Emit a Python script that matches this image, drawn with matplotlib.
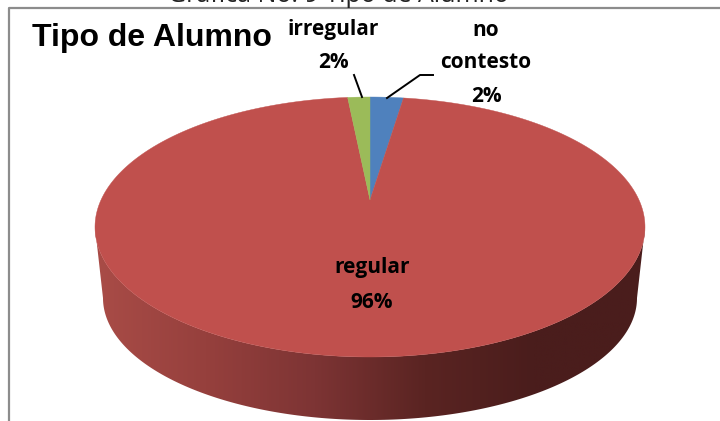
import numpy as np
import matplotlib
matplotlib.use("Agg")
import matplotlib.pyplot as plt
from matplotlib.colors import LinearSegmentedColormap
from matplotlib.patches import Polygon

categories = ["no\ncontesto", "regular", "irregular"]
counts = [3, 120, 2]
slice_colors = ["#4F81BD", "#C0504D", "#9BBB59"]
side_colors = ["#A94C47", "#96403D", "#7D3434", "#5A2422", "#4A1D1C", "#4A1D1C"]
title = "Gráfica No. 9 Tipo de Alumno"
chart_title = "Tipo de Alumno"

# top face ellipse in pixels, perspective moves the apex above the centre
cx, cy, a, b = 370, 227, 275, 130
persp = 0.208
# bottom rim of the side wall
cy2, a2, b2 = 298, 267, 122

fig = plt.figure(figsize=(7.2, 4.21), dpi=100)
ax = fig.add_axes([0, 0, 1, 1])
ax.axis("off")


def project(theta):
    # theta clockwise from 12 o'clock on the unit circle
    u, v = np.sin(theta), np.cos(theta)
    d = 1 + persp * v
    x = u * np.sqrt(1 - persp ** 2) / d
    y = (v + persp) / d
    return cx + a * x, cy - b * y


# chart frame
ax.plot([9, 9, 720], [421, 7.5, 7.5], color="#8C8C8C", lw=1.6, solid_capstyle="butt")

# side wall with a left to right shade
t = np.linspace(0, np.pi, 200)
top_x, top_y = cx - a * np.cos(t), cy + b * np.sin(t)
bot_x, bot_y = cx - a2 * np.cos(t), cy2 + b2 * np.sin(t)
side = Polygon(np.column_stack([np.r_[top_x, bot_x[::-1]], np.r_[top_y, bot_y[::-1]]]),
               closed=True, fc="none", ec="none")
ax.add_patch(side)
cmap = LinearSegmentedColormap.from_list("side", side_colors)
img = ax.imshow(np.linspace(0, 1, 256)[None, :], cmap=cmap, aspect="auto",
                extent=[cx - a, cx + a, 425, cy - 5], zorder=1)
img.set_clip_path(side)

# top face
edges = np.r_[0, np.cumsum(counts)] / np.sum(counts) * 2 * np.pi
apex_x, apex_y = cx, cy - b * persp
for i in range(len(counts)):
    th = np.linspace(edges[i], edges[i + 1], 300)
    x, y = project(th)
    ax.fill(np.r_[apex_x, x], np.r_[apex_y, y], color=slice_colors[i], lw=0.3, zorder=2)

# leader lines
ax.plot([354, 362], [75, 97], color="black", lw=1.4, zorder=3)
ax.plot([433, 420, 387], [75, 75, 98], color="black", lw=1.4, zorder=3)

ax.set_xlim(0, 720)
ax.set_ylim(421, 0)

# labels
shares = [round(c / sum(counts) * 100) for c in counts]
lab = dict(family="Open Sans", weight="bold", fontsize=15, ha="center", va="center",
           color="black", zorder=4)
ax.text(333, 30, "irregular", **lab)
ax.text(333, 62, f"{shares[2]}%", **lab)
ax.text(486, 30, "no", **lab)
ax.text(486, 62, "contesto", **lab)
ax.text(486, 96, f"{shares[0]}%", **lab)
ax.text(372, 267, categories[1], **lab)
ax.text(372, 303, f"{shares[1]}%", **lab)

ax.text(32, 38, chart_title, family="Liberation Sans", weight="bold", fontsize=23,
        ha="left", va="center", color="black", zorder=4)
ax.text(338, -5, title, family="Open Sans", fontsize=18, ha="center", va="center",
        color="#222222", zorder=4)

fig.savefig("out.png", dpi=100)
